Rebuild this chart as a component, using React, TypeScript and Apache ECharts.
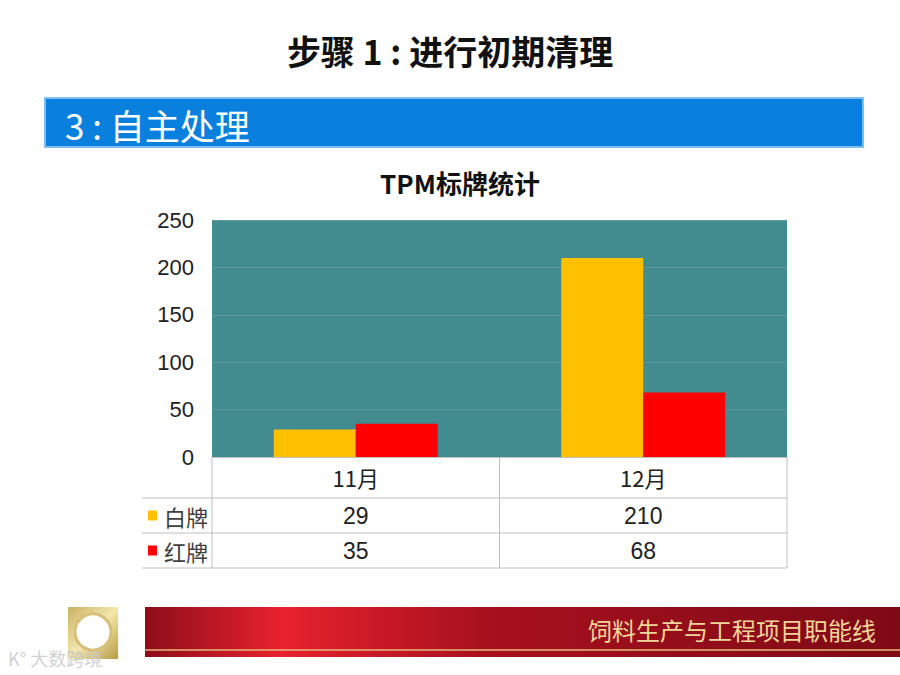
import React, { useEffect, useRef } from "react";
import * as echarts from "echarts";

const categories = ["11月", "12月"];
const seriesNames = ["白牌", "红牌"];
const whiteValues = [29, 210];
const redValues = [35, 68];
const yTicks = [0, 50, 100, 150, 200, 250];
const seriesColors = ["#FFC000", "#FF0000"];

const CJK = "'Noto Sans CJK SC', 'Liberation Sans', sans-serif";
const SANS = "'Liberation Sans', 'Noto Sans CJK SC', sans-serif";

export default function App() {
  const ref = useRef<HTMLDivElement>(null);
  useEffect(() => {
    document.body.style.margin = "0";
    if (!ref.current) return;
    const chart = echarts.init(ref.current, null, { renderer: "svg" });

    const gl = 212, gt = 220, gw = 575, gh = 237;
    const gr = gl + gw, gb = gt + gh;
    const tableLeft = 142;
    const rowH = [41, 35, 35];
    const rowY1 = gb + rowH[0];
    const rowY2 = rowY1 + rowH[1];
    const rowY3 = rowY2 + rowH[2];
    const catW = gw / categories.length;
    const lineStyle = { stroke: "#BFBFBF", lineWidth: 1 };
    const seriesData = [whiteValues, redValues];

    const tableGraphics: any[] = [];
    [rowY1, rowY2, rowY3].forEach((y) => {
      tableGraphics.push({ type: "line", shape: { x1: tableLeft, y1: y, x2: gr, y2: y }, style: lineStyle, silent: true });
    });
    for (let i = 0; i <= categories.length; i++) {
      const x = gl + i * catW;
      tableGraphics.push({ type: "line", shape: { x1: x, y1: gb, x2: x, y2: rowY3 }, style: lineStyle, silent: true });
    }
    seriesNames.forEach((name, si) => {
      const yc = gb + rowH[0] + rowH[1] * si + rowH[1] / 2;
      tableGraphics.push({ type: "rect", shape: { x: 148, y: yc - 5, width: 9, height: 10 }, style: { fill: seriesColors[si] }, silent: true });
      tableGraphics.push({ type: "text", x: 164, y: yc, style: { text: name, font: `22px ${CJK}`, fill: "#404040", textVerticalAlign: "middle", textAlign: "left" }, silent: true });
      seriesData[si].forEach((v, ci) => {
        tableGraphics.push({ type: "text", x: gl + catW * (ci + 0.5), y: yc, style: { text: String(v), font: `23px ${SANS}`, fill: "#222", textAlign: "center", textVerticalAlign: "middle" }, silent: true });
      });
    });

    const option: any = {
      animation: false,
      backgroundColor: "#ffffff",
      grid: { left: gl, top: gt, width: gw, height: gh, show: true, backgroundColor: "#428B8F", borderWidth: 0 },
      xAxis: {
        type: "category",
        data: categories,
        axisLine: { show: true, lineStyle: { color: "#BFBFBF" } },
        axisTick: { show: false },
        axisLabel: { color: "#222", fontSize: 22, fontFamily: CJK, margin: 9 },
        splitLine: { show: false },
      },
      yAxis: {
        type: "value",
        min: yTicks[0],
        max: yTicks[yTicks.length - 1],
        interval: 50,
        axisLine: { show: false },
        axisTick: { show: false },
        axisLabel: { color: "#222", fontSize: 22, fontFamily: SANS, margin: 18 },
        splitLine: { show: true, lineStyle: { color: "#5A9A9E", width: 1 } },
      },
      series: [
        { name: seriesNames[0], type: "bar", data: whiteValues, barWidth: 82, barGap: "0%", itemStyle: { color: seriesColors[0] } },
        { name: seriesNames[1], type: "bar", data: redValues, barWidth: 82, barGap: "0%", itemStyle: { color: seriesColors[1] } },
      ],
      graphic: [
        { type: "text", x: 450, y: 50, style: { text: "步骤 1 : 进行初期清理", font: `bold 34px ${CJK}`, fill: "#111", textAlign: "center", textVerticalAlign: "middle" }, silent: true },
        { type: "rect", shape: { x: 45, y: 98, width: 818, height: 49 }, style: { fill: "#0A80DE", stroke: "#7CC0F0", lineWidth: 2 }, silent: true },
        { type: "text", x: 65, y: 124, style: { text: "3 : 自主处理", font: `35px ${CJK}`, fill: "#ffffff", textAlign: "left", textVerticalAlign: "middle" }, silent: true },
        { type: "text", x: 460, y: 182, style: { text: "TPM标牌统计", font: `bold 26px ${CJK}`, fill: "#111", textAlign: "center", textVerticalAlign: "middle" }, silent: true },
        ...tableGraphics,
        {
          type: "rect", shape: { x: 68, y: 607, width: 50, height: 52 },
          style: { fill: new echarts.graphic.LinearGradient(0, 0, 1, 1, [{ offset: 0, color: "#C9B160" }, { offset: 0.5, color: "#F3E6AE" }, { offset: 1, color: "#B89A48" }]) },
          silent: true,
        },
        { type: "circle", shape: { cx: 93, cy: 632, r: 18 }, style: { fill: "#FFFFFF", stroke: "#D8C07A", lineWidth: 3 }, silent: true },
        {
          type: "rect", shape: { x: 145, y: 607, width: 755, height: 50 },
          style: {
            fill: new echarts.graphic.LinearGradient(0, 0, 1, 0, [
              { offset: 0, color: "#8E0D1A" },
              { offset: 0.18, color: "#E8222E" },
              { offset: 0.45, color: "#A8101E" },
              { offset: 1, color: "#7E0A16" },
            ]),
          },
          silent: true,
        },
        { type: "line", shape: { x1: 145, y1: 650, x2: 900, y2: 650 }, style: { stroke: "#E7B77A", lineWidth: 1.5 }, silent: true },
        { type: "text", x: 876, y: 629, style: { text: "饲料生产与工程项目职能线", font: `24px ${CJK}`, fill: "#F1D59A", textAlign: "right", textVerticalAlign: "middle" }, silent: true },
        { type: "text", x: 8, y: 658, style: { text: "K\u00B0 大数跨境", font: `18px ${CJK}`, fill: "rgba(200,200,200,0.85)", textAlign: "left", textVerticalAlign: "middle" }, silent: true },
      ],
    };
    chart.setOption(option);
    return () => chart.dispose();
  }, []);
  return <div ref={ref} style={{ width: 900, height: 675 }} />;
}
